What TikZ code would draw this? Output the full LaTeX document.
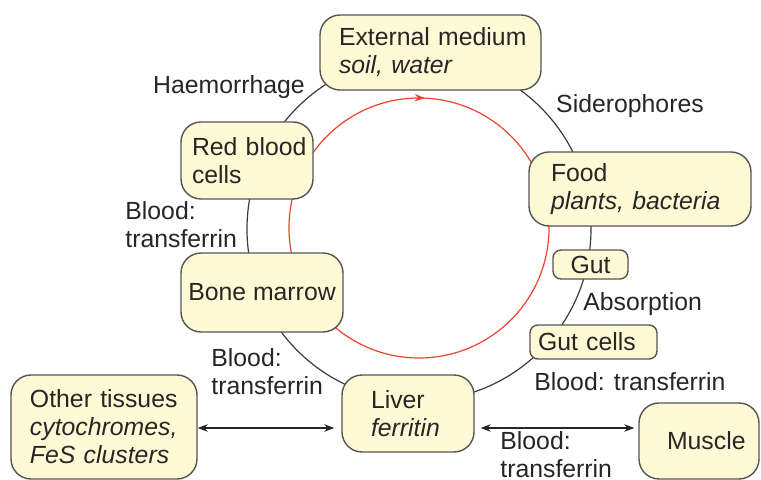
\documentclass[tikz,border=0pt]{standalone}
\usepackage{fontspec}
\setmainfont{Liberation Sans}
\usetikzlibrary{arrows.meta,decorations.markings}

\definecolor{boxfill}{RGB}{255,249,213}
\definecolor{boxline}{RGB}{85,85,85}
\definecolor{ringred}{RGB}{236,66,48}
\definecolor{ringgray}{RGB}{60,60,60}

\begin{document}
\begin{tikzpicture}[x=0.5pt, y=0.5pt,
    organ/.style={draw=boxline, fill=boxfill, line width=0.7pt, rounded corners=10pt, inner sep=0pt, align=left, text=black!85, font=\fontsize{12.4}{14}\selectfont},
    smallorgan/.style={organ, rounded corners=4pt},
    lbl/.style={inner sep=0pt, align=left, text=black!85, font=\fontsize{12.4}{14}\selectfont},
    ring/.style={draw=ringgray, line width=0.6pt},
    redring/.style={draw=ringred, line width=0.6pt},
    dbl/.style={{Stealth[length=5pt]}-{Stealth[length=5pt]}, line width=0.6pt, draw=black!85}
]
\useasboundingbox (0,0) rectangle (761,-480);

\draw[ring] (419,-229) circle[radius=86pt];
\draw[redring, postaction={decorate}, decoration={markings, mark=at position 0.757 with {\arrow[ringred]{Stealth[length=5pt]}}}]
    (549,-228) arc[start angle=0, end angle=-360, radius=65pt];

\node[organ, minimum width=110.5pt, minimum height=37.5pt, text width=91.5pt] (ext) at (430.5,-52.5) {External~medium\\\textit{soil, water}};
\node[organ, minimum width=66pt, minimum height=38.5pt, text width=55pt] (rbc) at (247,-160.5) {Red~blood\\cells};
\node[organ, minimum width=111pt, minimum height=37pt, text width=89pt] (food) at (640,-189) {Food\\\textit{plants,~bacteria}};
\node[smallorgan, minimum width=37.5pt, minimum height=14.5pt, align=center] (gut) at (590.5,-264.5) {Gut};
\node[smallorgan, minimum width=63.5pt, minimum height=17pt, text width=55.5pt] (gutc) at (593.5,-342) {Gut~cells};
\node[organ, minimum width=81pt, minimum height=39.5pt, align=center] (bone) at (262,-292.5) {Bone~marrow};
\node[organ, minimum width=93pt, minimum height=52pt, text width=74pt] (other) at (104,-427) {Other~tissues\\\textit{cytochromes,}\\\textit{FeS~clusters}};
\node[organ, minimum width=66pt, minimum height=38.5pt, text width=37pt] (liver) at (408,-413.5) {Liver\\\textit{ferritin}};
\node[organ, minimum width=60pt, minimum height=38pt, text width=32pt] (muscle) at (699,-441) {Muscle};

\node[lbl] (haem) at (229,-87) {Haemorrhage};
\node[lbl] (sidero) at (630,-106) {Siderophores};
\node[lbl, anchor=north west] (bloodrbc) at (125,-201) {Blood:\\transferrin};
\node[lbl, anchor=base west] (absorb) at (583,-311) {Absorption};
\node[lbl, anchor=base west] (bloodgut) at (534,-391) {Blood: transferrin};
\node[lbl, anchor=north west] (bloodbone) at (211,-348) {Blood:\\transferrin};
\node[lbl, anchor=north west] (bloodmus) at (500,-431) {Blood:\\transferrin};

\coordinate (arrowrow) at (0,-428);
\draw[dbl, shorten >=3.5pt] (other.east |- arrowrow) -- (liver.west |- arrowrow);
\draw[dbl, shorten <=3pt, shorten >=2pt] (liver.east |- arrowrow) -- (muscle.west |- arrowrow);
\end{tikzpicture}
\end{document}
